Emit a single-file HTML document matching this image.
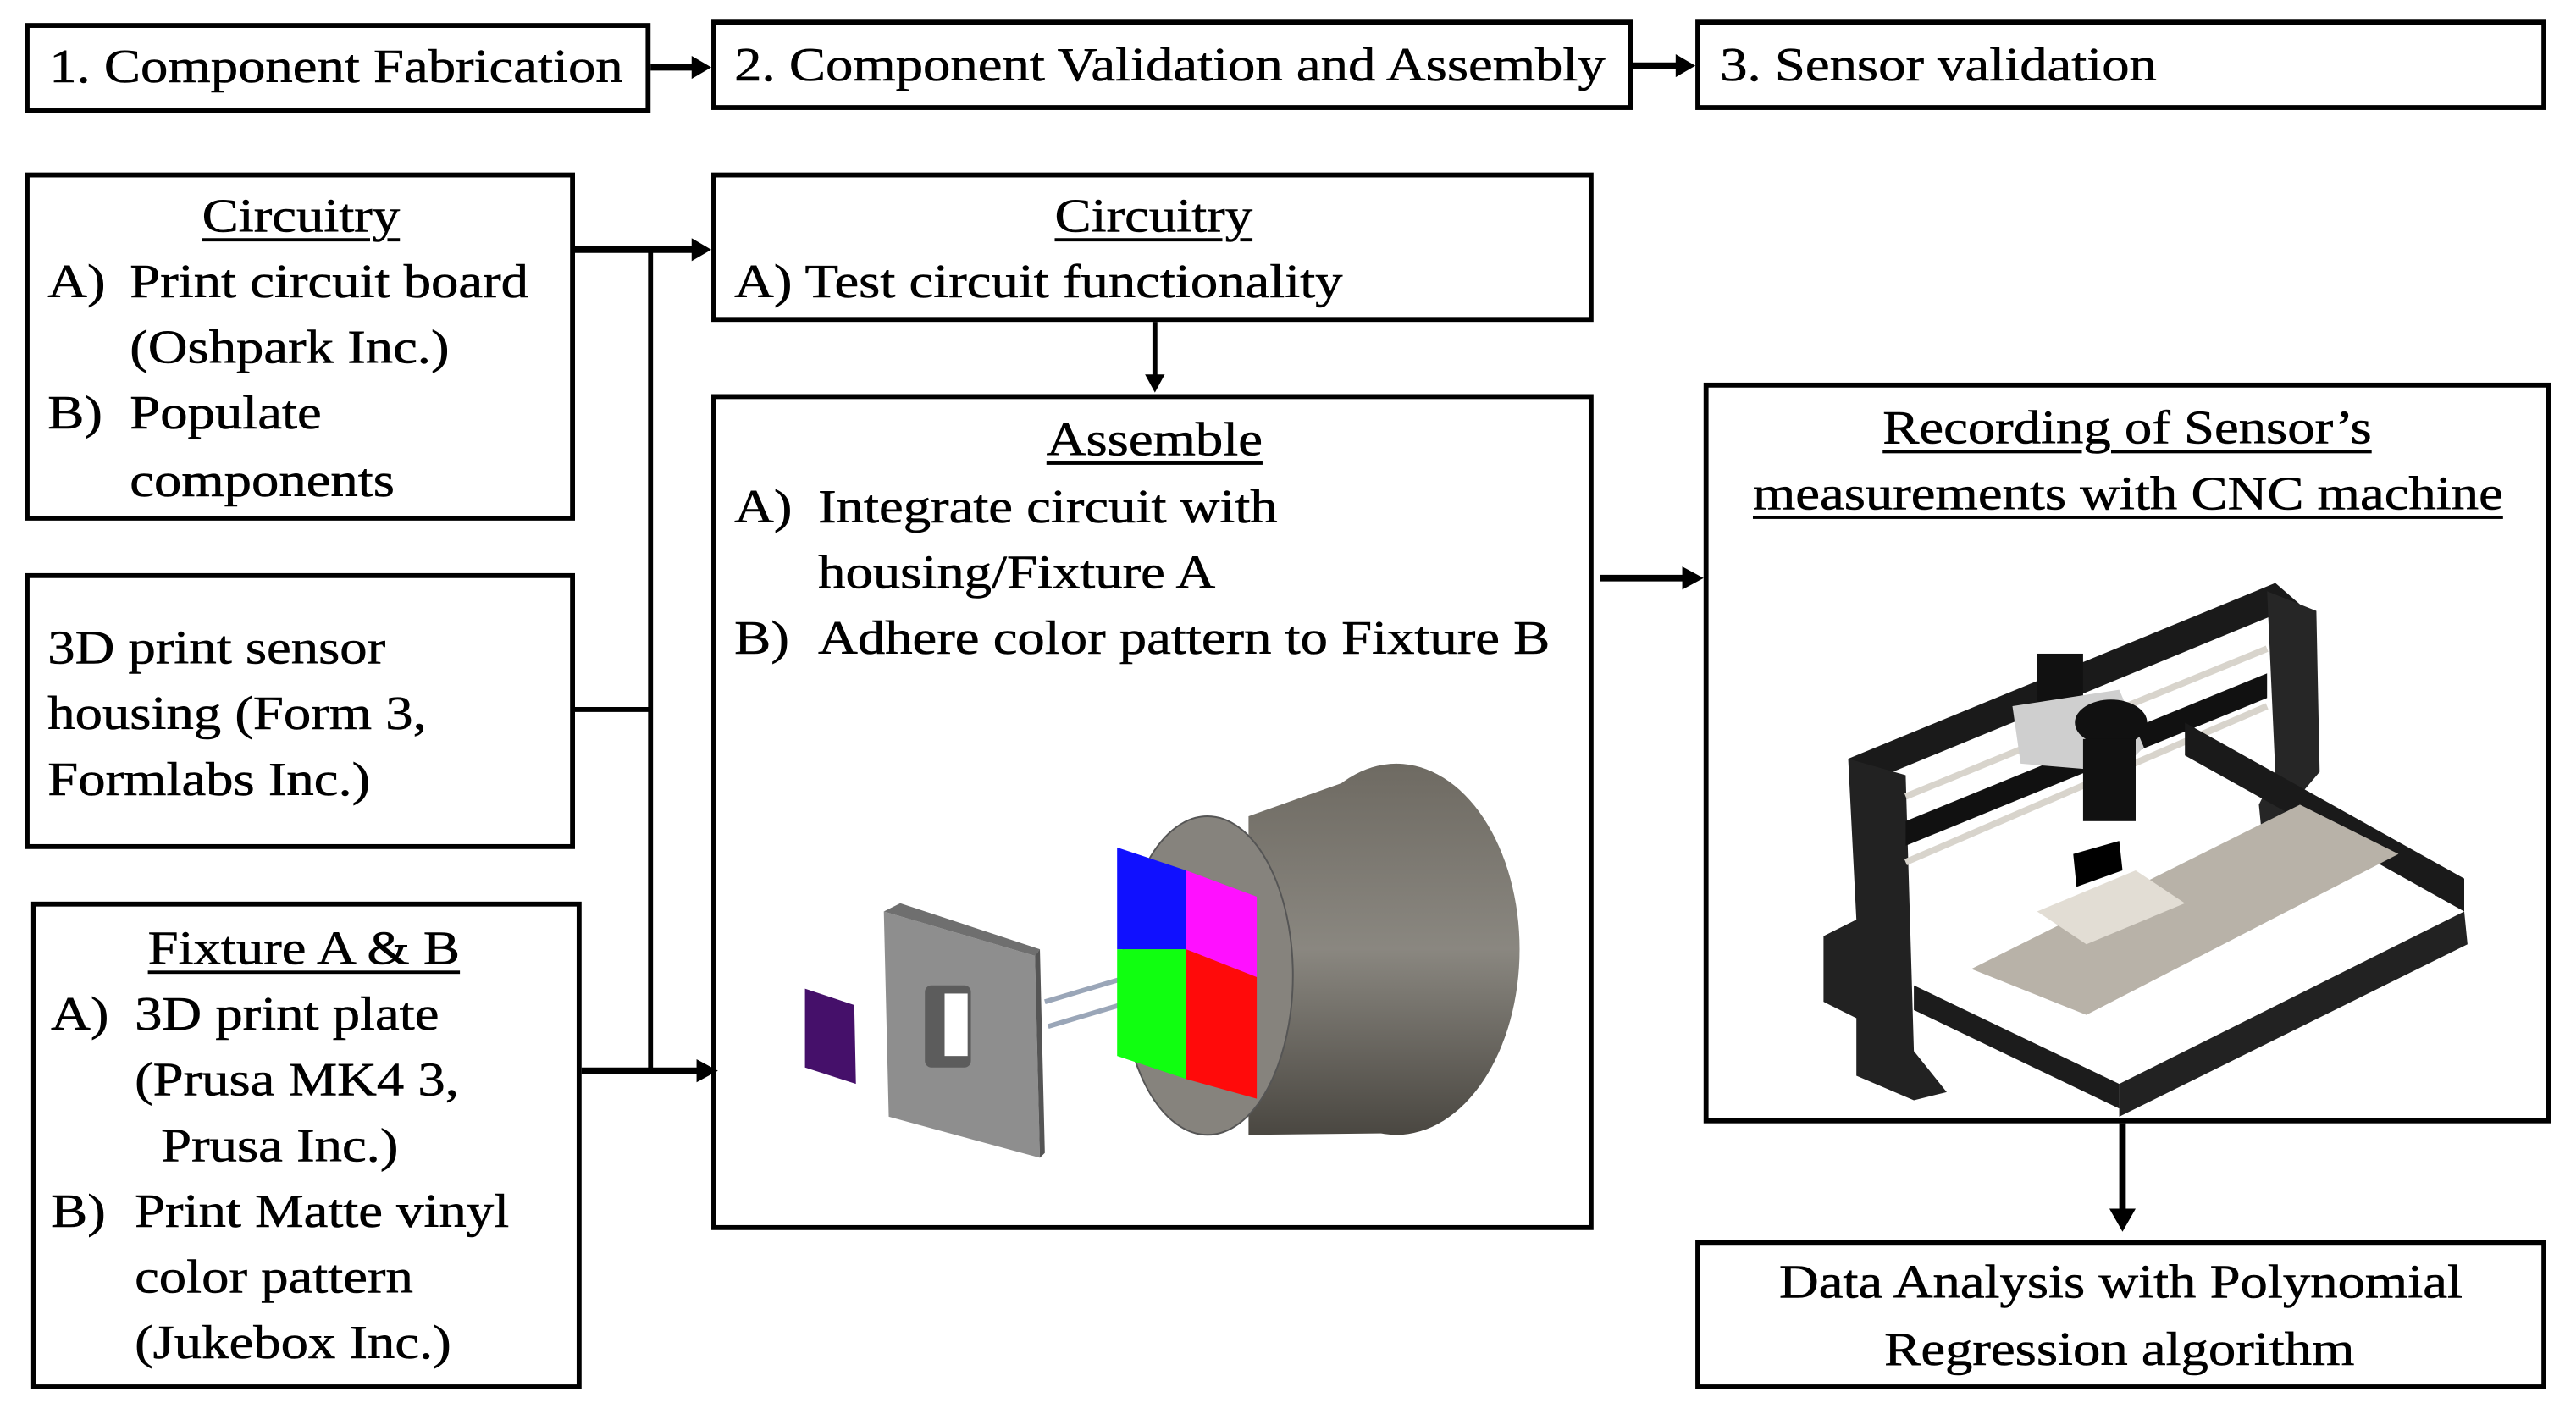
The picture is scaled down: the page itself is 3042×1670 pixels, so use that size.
<!DOCTYPE html>
<html><head><meta charset="utf-8"><style>
html,body{margin:0;padding:0;background:#fff;}
body{width:3042px;height:1670px;overflow:hidden;position:relative;}
#s{position:absolute;left:0;top:0;width:1568px;height:861px;transform:scale(1.94,1.9396);transform-origin:0 0;font-family:"Liberation Serif",serif;font-size:29px;color:#000;}
.b{position:absolute;border:3px solid #000;box-sizing:border-box;background:#fff;}
.t{position:absolute;white-space:nowrap;line-height:40px;transform:scaleX(1.15);transform-origin:0 0;-webkit-text-stroke:0.3px #000;}
.u{text-decoration:underline;text-decoration-thickness:2px;text-underline-offset:4px;}
svg{position:absolute;left:0;top:0;}
</style></head><body><div id="s">
<div class="b" style="left:15px;top:14px;width:381px;height:55px"></div>
<div class="t" style="left:30px;top:21px">1. Component Fabrication</div>
<div class="b" style="left:433px;top:12px;width:561px;height:55px"></div>
<div class="t" style="left:447px;top:20px">2. Component Validation and Assembly</div>
<div class="b" style="left:1032px;top:12px;width:518px;height:55px"></div>
<div class="t" style="left:1047px;top:20px">3. Sensor validation</div>

<div class="b" style="left:15px;top:105px;width:335px;height:212px"></div>
<div class="t u" style="left:123px;top:112px">Circuitry</div>
<div class="t" style="left:29px;top:152px">A)</div><div class="t" style="left:79px;top:152px">Print circuit board</div>
<div class="t" style="left:79px;top:192px">(Oshpark Inc.)</div>
<div class="t" style="left:29px;top:232px">B)</div><div class="t" style="left:79px;top:232px">Populate</div>
<div class="t" style="left:79px;top:273px">components</div>

<div class="b" style="left:15px;top:349px;width:335px;height:168px"></div>
<div class="t" style="left:29px;top:375px">3D print sensor</div>
<div class="t" style="left:29px;top:415px">housing (Form 3,</div>
<div class="t" style="left:29px;top:455px">Formlabs Inc.)</div>

<div class="b" style="left:19px;top:549px;width:335px;height:297px"></div>
<div class="t u" style="left:90px;top:558px">Fixture A &amp; B</div>
<div class="t" style="left:31px;top:598px">A)</div><div class="t" style="left:82px;top:598px">3D print plate</div>
<div class="t" style="left:82px;top:638px">(Prusa MK4 3,</div>
<div class="t" style="left:98px;top:678px">Prusa Inc.)</div>
<div class="t" style="left:31px;top:718px">B)</div><div class="t" style="left:82px;top:718px">Print Matte vinyl</div>
<div class="t" style="left:82px;top:758px">color pattern</div>
<div class="t" style="left:82px;top:798px">(Jukebox Inc.)</div>

<div class="b" style="left:433px;top:105px;width:537px;height:91px"></div>
<div class="t u" style="left:642px;top:112px">Circuitry</div>
<div class="t" style="left:447px;top:152px">A) Test circuit functionality</div>

<div class="b" style="left:433px;top:240px;width:537px;height:509px"></div>
<div class="t u" style="left:637px;top:248px">Assemble</div>
<div class="t" style="left:447px;top:289px">A)</div><div class="t" style="left:498px;top:289px">Integrate circuit with</div>
<div class="t" style="left:498px;top:329px">housing/Fixture A</div>
<div class="t" style="left:447px;top:369px">B)</div><div class="t" style="left:498px;top:369px">Adhere color pattern to Fixture B</div>

<div class="b" style="left:1037px;top:233px;width:516px;height:451px"></div>
<div class="t u" style="left:1146px;top:241px">Recording of Sensor’s</div>
<div class="t u" style="left:1067px;top:281px">measurements with CNC machine</div>

<div class="b" style="left:1032px;top:755px;width:518px;height:91px"></div>
<div class="t" style="left:1083px;top:761px">Data Analysis with Polynomial</div>
<div class="t" style="left:1147px;top:802px">Regression algorithm</div>

<svg width="1568" height="861" viewBox="0 0 1568 861">
<g stroke="#000" stroke-width="4" fill="none">
<line x1="396" y1="41" x2="422" y2="41"/>
<line x1="994" y1="40" x2="1021" y2="40"/>
<line x1="350" y1="152" x2="422" y2="152"/>
<line x1="396" y1="152" x2="396" y2="652" stroke-width="3"/>
<line x1="350" y1="432" x2="396" y2="432" stroke-width="3"/>
<line x1="354" y1="652" x2="425" y2="652"/>
<line x1="703" y1="196" x2="703" y2="230" stroke-width="3"/>
<line x1="974" y1="352" x2="1025" y2="352"/>
<line x1="1292" y1="684" x2="1292" y2="738"/>
</g>
<g fill="#000">
<polygon points="433,41 421,34 421,48"/>
<polygon points="1032,40 1020,33 1020,47"/>
<polygon points="433,152 421,145 421,159"/>
<polygon points="437,652 424,645 424,659"/>
<polygon points="703,239 697,228 709,228"/>
<polygon points="1037,352 1024,345 1024,359"/>
<polygon points="1292,750 1284,736 1300,736"/>
</g>
<defs><linearGradient id="cy" x1="0" y1="0" x2="0" y2="1"><stop offset="0" stop-color="#6e6a62"/><stop offset="0.5" stop-color="#8a8780"/><stop offset="1" stop-color="#4a4741"/></linearGradient></defs>
<path d="M760,497 L850,465 A75,115 0 0 1 850,690 L760,691 Z" fill="url(#cy)"/>
<ellipse cx="850" cy="578" rx="75" ry="113" fill="url(#cy)"/>
<ellipse cx="735" cy="594" rx="52" ry="97" fill="#86837d" stroke="#555" stroke-width="1"/>
<polygon points="538,555 630,582 633,705 541,680" fill="#8e8e8e"/>
<polygon points="538,555 548,550 633,578 630,582" fill="#6f6f6f"/>
<polygon points="630,582 633,578 636,702 633,705" fill="#555"/>
<rect x="563" y="600" width="28" height="50" rx="4" fill="#5c5c5c"/>
<rect x="575" y="605" width="14" height="38" fill="#fff"/>
<polygon points="490,602 520,612 521,660 490,650" fill="#45106a"/>
<line x1="636" y1="610" x2="720" y2="585" stroke="#9aa6b8" stroke-width="3"/>
<line x1="638" y1="625" x2="722" y2="600" stroke="#9aa6b8" stroke-width="3"/>
<polygon points="680,516 722,530 722,578 680,578" fill="#1010ff"/>
<polygon points="722,530 765,546 765,595 722,578" fill="#ff10ff"/>
<polygon points="680,578 722,578 722,657 680,643" fill="#10ff10"/>
<polygon points="722,578 765,595 765,669 722,657" fill="#ff0a0a"/>
<polygon points="1125,462 1385,355 1400,368 1140,475" fill="#1a1a1a"/>
<polygon points="1125,462 1160,472 1165,640 1185,665 1165,670 1130,655 1130,620 1110,610 1110,570 1130,560" fill="#222"/>
<polygon points="1380,360 1410,372 1412,470 1395,490 1400,540 1380,540 1375,490 1385,470" fill="#262626"/>
<line x1="1160" y1="485" x2="1380" y2="395" stroke="#d8d4cc" stroke-width="4"/>
<line x1="1160" y1="525" x2="1380" y2="430" stroke="#d8d4cc" stroke-width="4"/>
<polygon points="1160,500 1380,410 1380,425 1160,515" fill="#111"/>
<polygon points="1165,600 1290,660 1290,675 1165,615" fill="#1c1c1c"/>
<polygon points="1290,660 1500,555 1502,575 1290,680" fill="#222"/>
<polygon points="1330,440 1500,535 1500,555 1330,460" fill="#1a1a1a"/>
<polygon points="1200,590 1400,490 1460,520 1270,618" fill="#b8b2a8"/>
<polygon points="1240,555 1300,530 1330,550 1270,575" fill="#e2ddd4"/>
<rect x="1240" y="398" width="28" height="40" fill="#111"/>
<polygon points="1225,430 1290,420 1305,455 1290,470 1230,465" fill="#cfcfcf"/>
<ellipse cx="1285" cy="440" rx="22" ry="14" fill="#111"/>
<rect x="1268" y="450" width="32" height="50" fill="#111"/>
<polygon points="1262,520 1290,512 1292,530 1264,540" fill="#000"/>
</svg>
</div></body></html>
